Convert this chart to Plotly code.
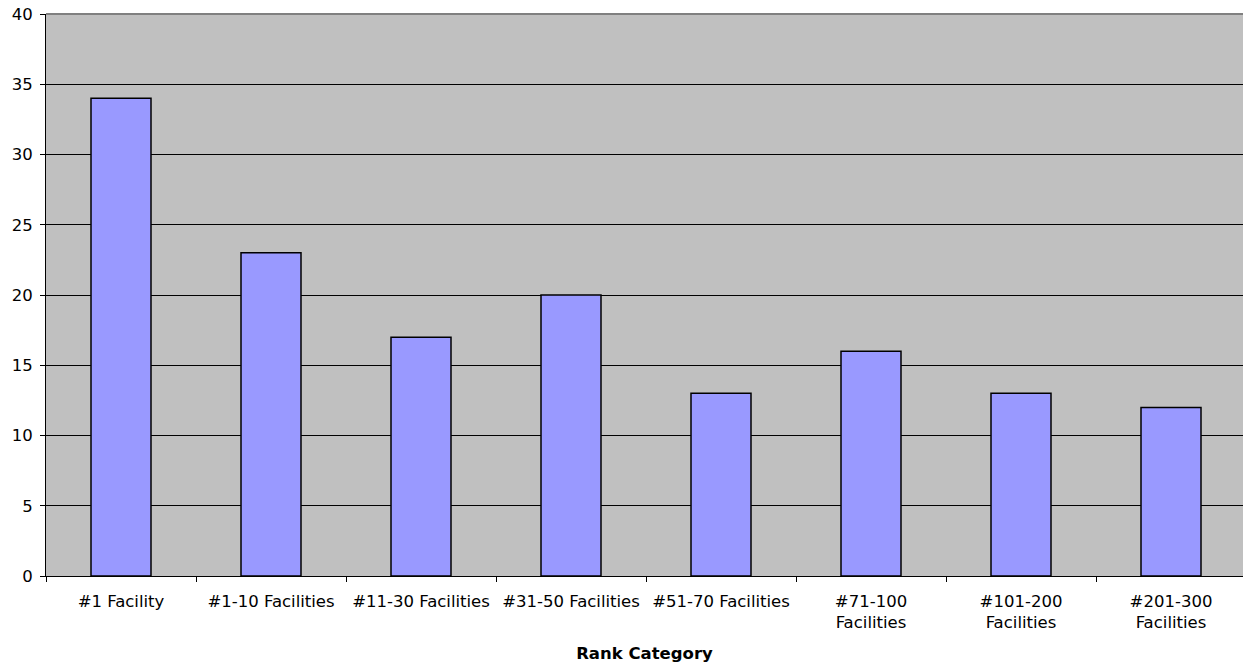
import plotly.graph_objects as go

categories = ["#1 Facility", "#1-10 Facilities", "#11-30 Facilities", "#31-50 Facilities",
              "#51-70 Facilities", "#71-100<br>Facilities", "#101-200<br>Facilities", "#201-300<br>Facilities"]
values = [34, 23, 17, 20, 13, 16, 13, 12]
y_ticks = [0, 5, 10, 15, 20, 25, 30, 35, 40]

fig = go.Figure(go.Bar(
    x=categories, y=values, width=0.4,
    marker=dict(color="#9999FF", line=dict(color="black", width=1.5)),
))

fig.update_layout(
    width=1243, height=667,
    margin=dict(l=46, r=0, t=14, b=91),
    paper_bgcolor="white", plot_bgcolor="#C0C0C0",
    font=dict(family="DejaVu Sans, sans-serif", size=16.5, color="black"),
    showlegend=False,
    xaxis=dict(
        range=[-0.5, 7.48], tickson="boundaries", ticks="outside", ticklen=5,
        tickcolor="black", showline=True, linecolor="black", linewidth=1,
        showgrid=False, tickangle=0, ticklabelstandoff=10,
        title=dict(text="<b>Rank Category</b>", font=dict(size=16.5), standoff=16),
    ),
    yaxis=dict(
        range=[0, 40], tickvals=y_ticks, ticks="outside", ticklen=5, tickcolor="black",
        showline=True, linecolor="black", linewidth=1, ticklabelstandoff=4,
        showgrid=True, gridcolor="black", gridwidth=1, zeroline=False,
    ),
)
fig.add_shape(type="line", xref="paper", yref="paper", x0=0, x1=1, y0=1, y1=1,
              line=dict(color="#808080", width=2))
fig.write_html("out.html", config={"displayModeBar": False},
               post_script="document.body.style.margin='0';document.body.style.overflow='hidden';")
